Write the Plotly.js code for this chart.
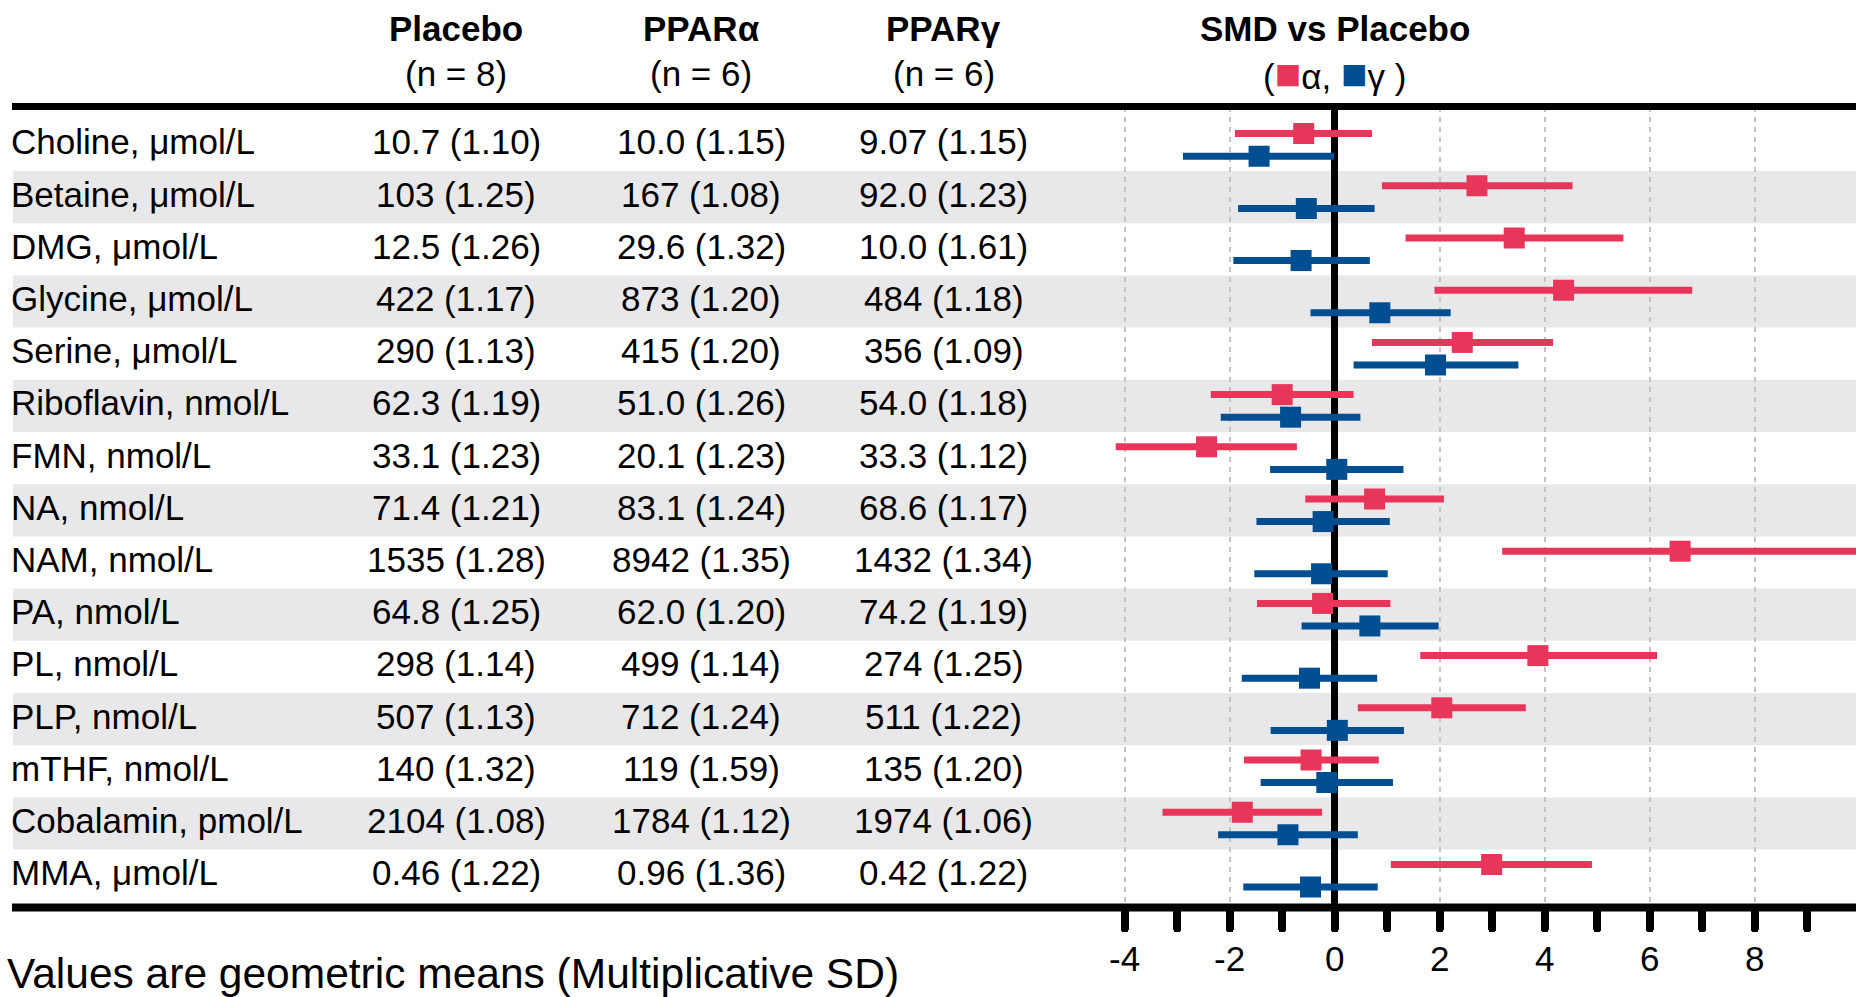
<!DOCTYPE html>
<html>
<head>
<meta charset="utf-8">
<script src="https://cdn.plot.ly/plotly-3.0.1.min.js"></script>
<style>html,body{margin:0;padding:0;background:#fff;}#chart{width:1856px;height:997px;}</style>
</head>
<body>
<div id="chart"></div>
<script>
// ---------- DATA ----------
const categories = ["Choline, μmol/L","Betaine, μmol/L","DMG, μmol/L","Glycine, μmol/L","Serine, μmol/L","Riboflavin, nmol/L","FMN, nmol/L","NA, nmol/L","NAM, nmol/L","PA, nmol/L","PL, nmol/L","PLP, nmol/L","mTHF, nmol/L","Cobalamin, pmol/L","MMA, μmol/L"];
const placeboVals = ["10.7 (1.10)","103 (1.25)","12.5 (1.26)","422 (1.17)","290 (1.13)","62.3 (1.19)","33.1 (1.23)","71.4 (1.21)","1535 (1.28)","64.8 (1.25)","298 (1.14)","507 (1.13)","140 (1.32)","2104 (1.08)","0.46 (1.22)"];
const pparAVals = ["10.0 (1.15)","167 (1.08)","29.6 (1.32)","873 (1.20)","415 (1.20)","51.0 (1.26)","20.1 (1.23)","83.1 (1.24)","8942 (1.35)","62.0 (1.20)","499 (1.14)","712 (1.24)","119 (1.59)","1784 (1.12)","0.96 (1.36)"];
const pparGVals = ["9.07 (1.15)","92.0 (1.23)","10.0 (1.61)","484 (1.18)","356 (1.09)","54.0 (1.18)","33.3 (1.12)","68.6 (1.17)","1432 (1.34)","74.2 (1.19)","274 (1.25)","511 (1.22)","135 (1.20)","1974 (1.06)","0.42 (1.22)"];

const smdAlpha   = [-0.59, 2.71, 3.42, 4.36, 2.43, -1.00, -2.44, 0.76, 6.58, -0.23, 3.87, 2.04, -0.45, -1.76, 2.99];
const smdAlphaLo = [-1.90, 0.90, 1.35, 1.90, 0.71, -2.36, -4.17, -0.56, 3.19, -1.48, 1.63, 0.44, -1.73, -3.28, 1.07];
const smdAlphaHi = [0.71, 4.53, 5.50, 6.81, 4.16, 0.36, -0.72, 2.08, 9.97, 1.06, 6.14, 3.64, 0.84, -0.24, 4.90];

const smdGamma   = [-1.44, -0.54, -0.64, 0.86, 1.92, -0.84, 0.04, -0.22, -0.25, 0.67, -0.48, 0.05, -0.15, -0.89, -0.46];
const smdGammaLo = [-2.89, -1.84, -1.93, -0.46, 0.36, -2.17, -1.23, -1.49, -1.53, -0.63, -1.77, -1.22, -1.41, -2.22, -1.74];
const smdGammaHi = [-0.01, 0.76, 0.67, 2.21, 3.50, 0.49, 1.31, 1.05, 1.01, 1.98, 0.81, 1.32, 1.11, 0.44, 0.82];

const tickVals = [-4, -2, 0, 2, 4, 6, 8];
const tickText = ["-4", "-2", "0", "2", "4", "6", "8"];

const headerTitles = ["Placebo", "PPARα", "PPARγ"];
const headerNs = ["(n = 8)", "(n = 6)", "(n = 6)"];
const smdTitle = "SMD vs Placebo";
const footnote = "Values are geometric means (Multiplicative SD)";

// ---------- STYLE ----------
const W = 1856, H = 997;
const PINK = "#E8365A", BLUE = "#004E92";
const FONT = "Liberation Sans, Arial, Helvetica, sans-serif";
const OFF = 0.216;
const colX = [456, 701, 944];
const smdX = 1334.7;
const topLineY = 106.5, botLineY = 907.5;
const rowH = 52.2, row0 = 144.9;
const py = p => 1 - p / H;
const px = p => p / W;

const idx = categories.map((_, i) => i);

const traces = [
  {
    type: "scatter", mode: "markers",
    x: smdAlpha, y: idx.map(i => i - OFF),
    marker: {symbol: "square", size: 21, color: PINK, line: {width: 0}},
    error_x: {type: "data", symmetric: false,
      array: smdAlphaHi.map((h, i) => h - smdAlpha[i]),
      arrayminus: smdAlpha.map((m, i) => m - smdAlphaLo[i]),
      thickness: 7, width: 0, color: PINK},
    hoverinfo: "skip"
  },
  {
    type: "scatter", mode: "markers",
    x: smdGamma, y: idx.map(i => i + OFF),
    marker: {symbol: "square", size: 21, color: BLUE, line: {width: 0}},
    error_x: {type: "data", symmetric: false,
      array: smdGammaHi.map((h, i) => h - smdGamma[i]),
      arrayminus: smdGamma.map((m, i) => m - smdGammaLo[i]),
      thickness: 7, width: 0, color: BLUE},
    hoverinfo: "skip"
  }
];

const shapes = [];
idx.forEach(i => {
  if (i % 2 === 1) {
    shapes.push({type: "rect", layer: "below", xref: "paper", yref: "y",
      x0: px(13), x1: 1, y0: i - 0.5, y1: i + 0.5,
      fillcolor: "#e8e8ea", line: {width: 0}});
  }
});
shapes.push({type: "line", xref: "paper", yref: "paper", x0: px(12), x1: 1, y0: py(topLineY), y1: py(topLineY), line: {color: "#000", width: 7}});
shapes.push({type: "line", xref: "paper", yref: "paper", x0: px(12), x1: 1, y0: py(botLineY), y1: py(botLineY), line: {color: "#000", width: 8}});

const annotations = [];
const tf = {family: FONT, size: 35, color: "#000"};
idx.forEach(i => {
  annotations.push({xref: "paper", yref: "y", x: px(9), y: i, yshift: 3, xanchor: "left", yanchor: "middle", text: categories[i], showarrow: false, font: tf});
  [placeboVals, pparAVals, pparGVals].forEach((arr, c) => {
    annotations.push({xref: "paper", yref: "y", x: px(colX[c]), y: i, yshift: 3, xanchor: "center", yanchor: "middle", text: arr[i], showarrow: false, font: tf});
  });
});
headerTitles.forEach((t, c) => {
  annotations.push({xref: "paper", yref: "paper", x: px(colX[c]), y: py(29), xanchor: "center", yanchor: "middle", text: "<b>" + t + "</b>", showarrow: false, font: tf});
  annotations.push({xref: "paper", yref: "paper", x: px(colX[c]), y: py(74), xanchor: "center", yanchor: "middle", text: headerNs[c], showarrow: false, font: tf});
});
annotations.push({xref: "paper", yref: "paper", x: px(smdX), y: py(29), xanchor: "center", yanchor: "middle", text: "<b>" + smdTitle + "</b>", showarrow: false, font: tf});
annotations.push({xref: "paper", yref: "paper", x: px(1334), y: py(74), xanchor: "center", yanchor: "middle",
  text: '(<span style="color:' + PINK + ';font-size:44px">■</span>α, <span style="color:' + BLUE + ';font-size:44px">■</span>γ )', showarrow: false, font: tf});
annotations.push({xref: "paper", yref: "paper", x: px(5), y: py(973), xanchor: "left", yanchor: "middle", text: footnote, showarrow: false, font: {family: FONT, size: 42.5, color: "#000"}});

const xDomL = 1100;
const xMin = -4.47, xMax = 9.93;

const layout = {
  width: W, height: H,
  margin: {l: 0, r: 0, t: 0, b: 0, pad: 0},
  paper_bgcolor: "#fff", plot_bgcolor: "rgba(0,0,0,0)",
  showlegend: false,
  font: {family: FONT, color: "#000"},
  xaxis: {
    domain: [px(xDomL), 1], range: [xMin, xMax], anchor: "y",
    showline: false, zeroline: true, zerolinecolor: "#000", zerolinewidth: 7,
    showgrid: true, gridcolor: "#c4c4c4", gridwidth: 2, griddash: "5px,5px",
    tickmode: "array", tickvals: tickVals, ticktext: tickText,
    ticks: "outside", ticklen: 20, tickwidth: 8, tickcolor: "#000",
    tickfont: {family: FONT, size: 35, color: "#000"},
    minor: {tickmode: "linear", tick0: 0, dtick: 1, ticks: "outside", ticklen: 20, tickwidth: 8, tickcolor: "#000", showgrid: false},
    fixedrange: true
  },
  yaxis: {
    domain: [py(botLineY), py(topLineY)],
    range: [(botLineY - row0) / rowH, (topLineY - row0) / rowH],
    visible: false, fixedrange: true
  },
  shapes: shapes,
  annotations: annotations
};

Plotly.newPlot("chart", traces, layout, {staticPlot: true, displayModeBar: false}).then(() => {
  document.querySelectorAll("#chart path").forEach(p => {
    const c = p.getAttribute("class") || "";
    if (c.indexOf("tick") >= 0) p.style.strokeLinecap = "round";
  });
});
</script>
</body>
</html>
